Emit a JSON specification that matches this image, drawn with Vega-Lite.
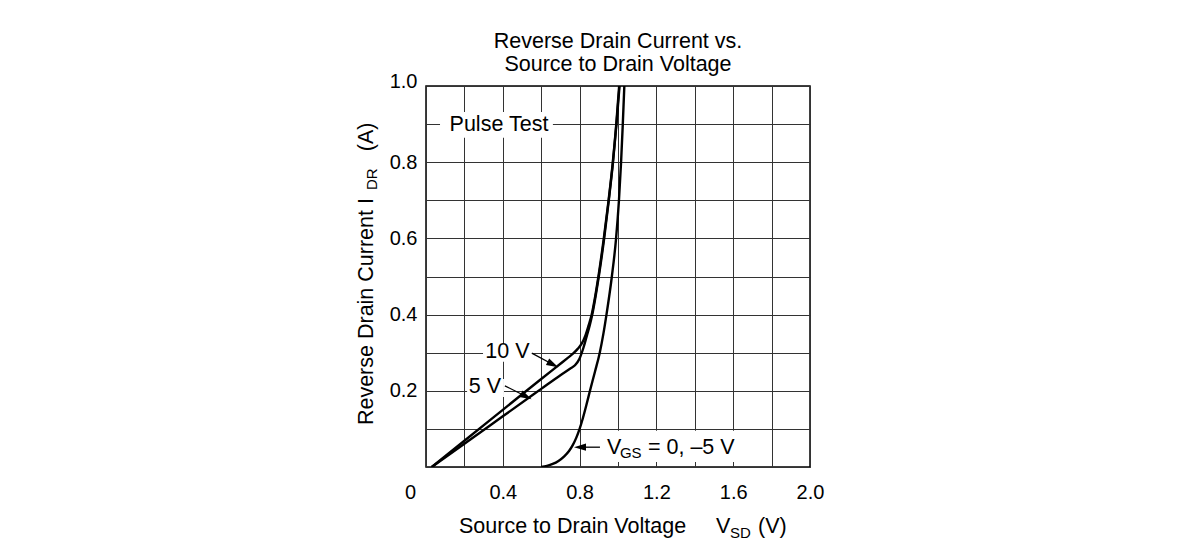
{
  "$schema": "https://vega.github.io/schema/vega-lite/v6.json",
  "width": 384,
  "height": 381,
  "autosize": {"type": "none"},
  "padding": {"left": 426, "top": 86, "right": 377, "bottom": 86},
  "background": "white",
  "config": {
    "font": "Liberation Sans",
    "view": {"stroke": "black", "strokeWidth": 1.5},
    "axis": {
      "ticks": false, "tickSize": 0, "domain": false,
      "grid": true, "gridColor": "#333333", "gridWidth": 1, "gridOpacity": 1,
      "labelFont": "Liberation Sans", "labelFontSize": 20, "labelColor": "black",
      "labelOverlap": false, "labelFlush": false, "labelBound": false
    }
  },
  "title": {
    "text": ["Reverse Drain Current vs.", "Source to Drain Voltage"],
    "font": "Liberation Sans", "fontSize": 21.5, "fontWeight": "normal", "color": "black",
    "anchor": "middle", "lineHeight": 23, "offset": -4
  },
  "datasets": {
    "curves": [
      {"s": "10V", "x": 0.03, "y": 0}, {"s": "10V", "x": 0.2, "y": 0.069}, {"s": "10V", "x": 0.4, "y": 0.15},
      {"s": "10V", "x": 0.6, "y": 0.231}, {"s": "10V", "x": 0.7, "y": 0.271}, {"s": "10V", "x": 0.74, "y": 0.287},
      {"s": "10V", "x": 0.767, "y": 0.298}, {"s": "10V", "x": 0.79, "y": 0.31}, {"s": "10V", "x": 0.81, "y": 0.323},
      {"s": "10V", "x": 0.83, "y": 0.345}, {"s": "10V", "x": 0.847, "y": 0.372}, {"s": "10V", "x": 0.863, "y": 0.4},
      {"s": "10V", "x": 0.882, "y": 0.45}, {"s": "10V", "x": 0.898, "y": 0.5}, {"s": "10V", "x": 0.926, "y": 0.6},
      {"s": "10V", "x": 0.951, "y": 0.7}, {"s": "10V", "x": 0.973, "y": 0.8}, {"s": "10V", "x": 0.991, "y": 0.9},
      {"s": "10V", "x": 1.006, "y": 1.0},
      {"s": "5V", "x": 0.03, "y": 0}, {"s": "5V", "x": 0.2, "y": 0.061}, {"s": "5V", "x": 0.4, "y": 0.133},
      {"s": "5V", "x": 0.6, "y": 0.205}, {"s": "5V", "x": 0.7, "y": 0.241}, {"s": "5V", "x": 0.75, "y": 0.258},
      {"s": "5V", "x": 0.776, "y": 0.267}, {"s": "5V", "x": 0.8, "y": 0.285}, {"s": "5V", "x": 0.82, "y": 0.313},
      {"s": "5V", "x": 0.838, "y": 0.345}, {"s": "5V", "x": 0.853, "y": 0.372}, {"s": "5V", "x": 0.866, "y": 0.4},
      {"s": "5V", "x": 0.884, "y": 0.45}, {"s": "5V", "x": 0.9, "y": 0.5}, {"s": "5V", "x": 0.928, "y": 0.6},
      {"s": "5V", "x": 0.952, "y": 0.7}, {"s": "5V", "x": 0.974, "y": 0.8}, {"s": "5V", "x": 0.992, "y": 0.9},
      {"s": "5V", "x": 1.008, "y": 1.0},
      {"s": "0V", "x": 0.6, "y": 0}, {"s": "0V", "x": 0.63, "y": 0.003}, {"s": "0V", "x": 0.66, "y": 0.008},
      {"s": "0V", "x": 0.69, "y": 0.016}, {"s": "0V", "x": 0.72, "y": 0.028}, {"s": "0V", "x": 0.745, "y": 0.042},
      {"s": "0V", "x": 0.765, "y": 0.058}, {"s": "0V", "x": 0.783, "y": 0.077}, {"s": "0V", "x": 0.8, "y": 0.1},
      {"s": "0V", "x": 0.817, "y": 0.128}, {"s": "0V", "x": 0.835, "y": 0.162}, {"s": "0V", "x": 0.854, "y": 0.2},
      {"s": "0V", "x": 0.88, "y": 0.25}, {"s": "0V", "x": 0.905, "y": 0.3}, {"s": "0V", "x": 0.924, "y": 0.35},
      {"s": "0V", "x": 0.94, "y": 0.4}, {"s": "0V", "x": 0.968, "y": 0.5}, {"s": "0V", "x": 0.99, "y": 0.6},
      {"s": "0V", "x": 1.005, "y": 0.7}, {"s": "0V", "x": 1.016, "y": 0.8}, {"s": "0V", "x": 1.025, "y": 0.9},
      {"s": "0V", "x": 1.033, "y": 1.0}
    ],
    "boxes": [
      {"x": 0.073, "x2": 0.661, "y": 0.864, "y2": 0.932},
      {"x": 0.297, "x2": 0.552, "y": 0.276, "y2": 0.325},
      {"x": 0.214, "x2": 0.406, "y": 0.184, "y2": 0.231},
      {"x": 0.92, "x2": 1.635, "y": 0.013, "y2": 0.095}
    ],
    "labels": [
      {"t": "Pulse Test", "x": 0.38, "y": 0.898},
      {"t": "10 V", "x": 0.424, "y": 0.302},
      {"t": "5 V", "x": 0.307, "y": 0.209}
    ],
    "arrows": [
      {"x": 0.551, "y": 0.299, "x2": 0.661, "y2": 0.269},
      {"x": 0.411, "y": 0.213, "x2": 0.522, "y2": 0.185},
      {"x": 0.906, "y": 0.052, "x2": 0.802, "y2": 0.052}
    ],
    "headsRight": [
      {"x": 0.661, "y": 0.269},
      {"x": 0.522, "y": 0.185}
    ],
    "headsLeft": [
      {"x": 0.802, "y": 0.052}
    ],
    "vgsMain": [
      {"t": "V", "x": 0.943, "y": 0.034},
      {"t": "= 0, –5 V", "x": 1.156, "y": 0.034}
    ],
    "vgsSub": [
      {"t": "GS", "x": 1.01, "y": 0.0236}
    ],
    "xTitle": [
      {"t": "Source to Drain Voltage", "x": 0.172, "y": 0},
      {"t": "V", "x": 1.51, "y": 0},
      {"t": "(V)", "x": 1.729, "y": 0}
    ],
    "xSub": [
      {"t": "SD", "x": 1.583, "y": 0}
    ],
    "yTitle": [
      {"t": "Reverse Drain Current", "x": 0, "y": 0.11},
      {"t": "I", "x": 0, "y": 0.69},
      {"t": "(A)", "x": 0, "y": 0.829}
    ],
    "ySub": [
      {"t": "DR", "x": 0, "y": 0.727}
    ]
  },
  "encoding": {
    "x": {
      "field": "x", "type": "quantitative",
      "scale": {"domain": [0, 2], "nice": false, "zero": false},
      "axis": {
        "title": null,
        "values": [0, 0.2, 0.4, 0.6, 0.8, 1.0, 1.2, 1.4, 1.6, 1.8, 2.0],
        "labelExpr": "datum.value == 0 ? '0' : (round(datum.value * 10) % 4 == 0 ? format(datum.value, '.1f') : '')",
        "labelPadding": 15,
        "labelAlign": "center",
        "labelBaseline": "top",
        "labelOffset": {"condition": {"test": "datum.value == 0", "value": -16}, "value": 0}
      }
    },
    "y": {
      "field": "y", "type": "quantitative",
      "scale": {"domain": [0, 1], "nice": false, "zero": false},
      "axis": {
        "title": null,
        "values": [0, 0.1, 0.2, 0.3, 0.4, 0.5, 0.6, 0.7, 0.8, 0.9, 1.0],
        "labelExpr": "(datum.value > 0 && round(datum.value * 10) % 2 == 0) ? format(datum.value, '.1f') : ''",
        "labelPadding": 9,
        "labelAlign": "right",
        "labelBaseline": "middle",
        "labelOffset": {"condition": {"test": "datum.value == 1", "value": -5}, "value": 0}
      }
    }
  },
  "layer": [
    {
      "data": {"name": "curves"},
      "mark": {"type": "line", "color": "black", "strokeWidth": 2.4, "interpolate": "monotone", "clip": true},
      "encoding": {
        "detail": {"field": "s", "type": "nominal"}
      }
    },
    {
      "data": {"name": "boxes"},
      "mark": {"type": "rect", "fill": "white", "stroke": null},
      "encoding": {
        "x2": {"field": "x2"},
        "y2": {"field": "y2"}
      }
    },
    {
      "data": {"name": "arrows"},
      "mark": {"type": "rule", "color": "black", "strokeWidth": 1.3},
      "encoding": {
        "x2": {"field": "x2"},
        "y2": {"field": "y2"}
      }
    },
    {
      "data": {"name": "headsRight"},
      "mark": {"type": "point", "shape": "M1,0 L-1,-0.6 L-1,0.6 Z", "filled": true, "color": "black", "opacity": 1, "size": 144, "angle": 27},
      "encoding": {}
    },
    {
      "data": {"name": "headsLeft"},
      "mark": {"type": "point", "shape": "M1,0 L-1,-0.6 L-1,0.6 Z", "filled": true, "color": "black", "opacity": 1, "size": 144, "angle": 180},
      "encoding": {}
    },
    {
      "data": {"name": "labels"},
      "mark": {"type": "text", "fontSize": 21.5, "color": "black", "align": "center", "baseline": "middle"},
      "encoding": {"text": {"field": "t"}}
    },
    {
      "data": {"name": "vgsMain"},
      "mark": {"type": "text", "fontSize": 21.5, "color": "black", "align": "left", "baseline": "alphabetic"},
      "encoding": {"text": {"field": "t"}}
    },
    {
      "data": {"name": "vgsSub"},
      "mark": {"type": "text", "fontSize": 15, "color": "black", "align": "left", "baseline": "alphabetic"},
      "encoding": {"text": {"field": "t"}}
    },
    {
      "data": {"name": "xTitle"},
      "mark": {"type": "text", "fontSize": 21.5, "color": "black", "align": "left", "baseline": "alphabetic", "dy": 66, "clip": false},
      "encoding": {"text": {"field": "t"}}
    },
    {
      "data": {"name": "xSub"},
      "mark": {"type": "text", "fontSize": 15, "color": "black", "align": "left", "baseline": "alphabetic", "dy": 71, "clip": false},
      "encoding": {"text": {"field": "t"}}
    },
    {
      "data": {"name": "yTitle"},
      "mark": {"type": "text", "fontSize": 21.5, "color": "black", "align": "left", "baseline": "alphabetic", "angle": 270, "dy": -53, "clip": false},
      "encoding": {"text": {"field": "t"}}
    },
    {
      "data": {"name": "ySub"},
      "mark": {"type": "text", "fontSize": 15, "color": "black", "align": "left", "baseline": "alphabetic", "angle": 270, "dy": -49, "clip": false},
      "encoding": {"text": {"field": "t"}}
    }
  ]
}
